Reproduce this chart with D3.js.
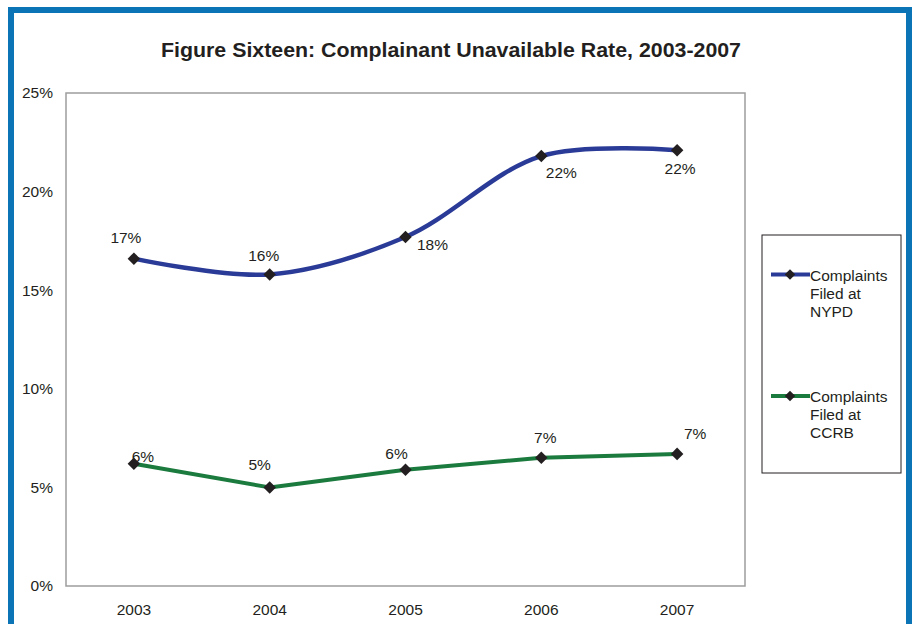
<!DOCTYPE html>
<html>
<head>
<meta charset="utf-8">
<script src="https://cdn.jsdelivr.net/npm/d3@7"></script>
<style>
  html, body { margin: 0; padding: 0; background: #ffffff; }
  svg { display: block; font-family: Arial, "Liberation Sans", sans-serif; }
</style>
</head>
<body>
<svg id="chart" width="916" height="624"></svg>
<script>
// Complainant unavailable rate by year and filing location
const years = ["2003", "2004", "2005", "2006", "2007"];
const nypdRate = [16.6, 15.8, 17.7, 21.8, 22.1];
const ccrbRate = [6.2, 5.0, 5.9, 6.5, 6.7];
const nypdLabels = ["17%", "16%", "18%", "22%", "22%"];
const ccrbLabels = ["6%", "5%", "6%", "7%", "7%"];
const yTicks = [0, 5, 10, 15, 20, 25];
const seriesNames = [["Complaints", "Filed at", "NYPD"], ["Complaints", "Filed at", "CCRB"]];

const svg = d3.select("#chart");
const FONT = "Arial, 'Liberation Sans', sans-serif";
const LABEL_SIZE = 15.5;

// outer blue frame
svg.append("rect").attr("x", 11).attr("y", 10).attr("width", 898).attr("height", 630)
  .attr("fill", "none").attr("stroke", "#0a74b6").attr("stroke-width", 6);

svg.append("text").attr("x", 451).attr("y", 57).attr("text-anchor", "middle")
  .attr("font-size", 20).attr("font-weight", "bold").attr("fill", "#231f20")
  .attr("textLength", 580).attr("lengthAdjust", "spacingAndGlyphs")
  .text("Figure Sixteen: Complainant Unavailable Rate, 2003-2007");

const plot = { left: 66, top: 93, right: 745, bottom: 586 };
const x = d3.scaleBand().domain(years).range([plot.left, plot.right]);
const y = d3.scaleLinear().domain([0, 25]).range([plot.bottom, plot.top]);
const cx = d => x(d) + x.bandwidth() / 2;

// plot area border
svg.append("rect").attr("x", plot.left).attr("y", plot.top)
  .attr("width", plot.right - plot.left).attr("height", plot.bottom - plot.top)
  .attr("fill", "none").attr("stroke", "#9d9d9d").attr("stroke-width", 1.5);

// y axis labels
const yAxis = d3.axisLeft(y).tickValues(yTicks).tickSize(0).tickPadding(13)
  .tickFormat(d => d + "%");
svg.append("g").attr("transform", `translate(${plot.left},0)`).call(yAxis)
  .call(g => g.select(".domain").remove())
  .selectAll("text").attr("font-size", LABEL_SIZE).attr("fill", "#231f20")
  .attr("font-family", FONT);

// x axis labels
const xAxis = d3.axisBottom(x).tickSize(0).tickPadding(18);
svg.append("g").attr("transform", `translate(0,${plot.bottom})`).call(xAxis)
  .call(g => g.select(".domain").remove())
  .selectAll("text").attr("font-size", LABEL_SIZE).attr("fill", "#231f20")
  .attr("font-family", FONT);

const diamond = d3.symbol().type(d3.symbolDiamond2).size(100);

function drawSeries(values, labels, color, width, curve, offsets) {
  const pts = years.map((yr, i) => [cx(yr), y(values[i])]);
  svg.append("path").attr("d", d3.line().curve(curve)(pts))
    .attr("fill", "none").attr("stroke", color).attr("stroke-width", width)
    .attr("stroke-linejoin", "round");
  svg.selectAll(null).data(pts).enter().append("path")
    .attr("d", diamond).attr("transform", d => `translate(${d[0]},${d[1]})`)
    .attr("fill", "#231f20");
  svg.selectAll(null).data(pts).enter().append("text")
    .attr("x", (d, i) => d[0] + offsets[i][0]).attr("y", (d, i) => d[1] + offsets[i][1])
    .attr("text-anchor", "middle").attr("font-size", LABEL_SIZE).attr("fill", "#231f20")
    .text((d, i) => labels[i]);
}

drawSeries(nypdRate, nypdLabels, "#2a3a97", 4.5, d3.curveCatmullRom.alpha(0.5),
  [[-8, -16], [-6, -13], [27, 13], [20, 22], [3, 24]]);
drawSeries(ccrbRate, ccrbLabels, "#1b7a3e", 4, d3.curveLinear,
  [[9, -2], [-10, -17], [-9, -11], [4, -15], [18, -15]]);

// legend
svg.append("rect").attr("x", 762).attr("y", 235).attr("width", 139).attr("height", 238)
  .attr("fill", "#ffffff").attr("stroke", "#231f20").attr("stroke-width", 1);
const legendColors = ["#2a3a97", "#1b7a3e"];
const legendY = [274.5, 396];
legendColors.forEach((c, i) => {
  const ly = legendY[i];
  svg.append("line").attr("x1", 771).attr("x2", 810).attr("y1", ly).attr("y2", ly)
    .attr("stroke", c).attr("stroke-width", 4);
  svg.append("path").attr("d", d3.symbol().type(d3.symbolDiamond2).size(70))
    .attr("transform", `translate(790,${ly})`).attr("fill", "#231f20");
  const t = svg.append("text").attr("x", 810).attr("y", ly + 6)
    .attr("font-size", LABEL_SIZE).attr("fill", "#231f20");
  seriesNames[i].forEach((s, j) => {
    t.append("tspan").attr("x", 810).attr("dy", j === 0 ? 0 : 18).text(s);
  });
});
</script>
</body>
</html>
